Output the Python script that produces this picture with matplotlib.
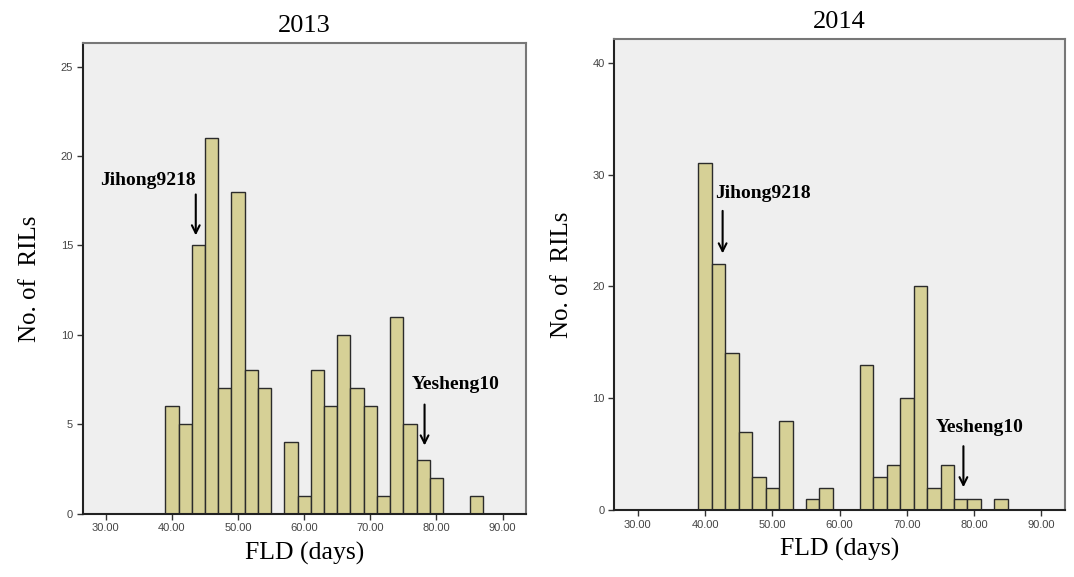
import numpy as np
import matplotlib.pyplot as plt

# bin edges shared by both years (width 2 days)
bin_starts = list(range(39, 87, 2))

counts_2013 = [6, 5, 15, 21, 7, 18, 8, 7, 0, 4, 1, 8, 6, 10, 7, 6, 1, 11, 5, 3, 2, 0, 0, 1]
counts_2014 = [31, 22, 14, 7, 3, 2, 8, 0, 1, 2, 0, 0, 13, 3, 4, 10, 20, 2, 4, 1, 1, 0, 1, 0]

xticks = [30, 40, 50, 60, 70, 80, 90]
yticks_2013 = [0, 5, 10, 15, 20, 25]
yticks_2014 = [0, 10, 20, 30, 40]

# parent annotations: (label, x, arrow top, arrow tip, text x, text y)
notes_2013 = [("Jihong9218", 43.6, 18.0, 15.4, 29.1, 18.6),
              ("Yesheng10", 78.2, 6.25, 3.65, 76.3, 7.2)]
notes_2014 = [("Jihong9218", 42.6, 27.0, 22.7, 41.5, 28.3),
              ("Yesheng10", 78.4, 5.96, 1.79, 74.3, 7.4)]

serif = ['Liberation Serif', 'DejaVu Serif']
sans = ['Liberation Sans', 'DejaVu Sans']


def draw_panel(ax, counts, yticks, ylim, notes, title):
    ax.set_facecolor('#efefef')
    for s, c in zip(bin_starts, counts):
        if c > 0:
            ax.bar(s, c, width=2, align='edge', color='#d6d096',
                   edgecolor='#2b2b2b', linewidth=1.0)
    ax.set_xlim(26.5, 93.5)
    ax.set_ylim(0, ylim)
    ax.set_xticks(xticks)
    ax.set_xticklabels([f"{t:.2f}" for t in xticks], fontfamily=sans,
                       fontsize=8, color='#444444')
    ax.set_yticks(yticks)
    ax.set_yticklabels([str(t) for t in yticks], fontfamily=sans,
                       fontsize=8, color='#444444')
    ax.tick_params(length=4, width=1, color='#333333', pad=3)
    for side in ['top', 'right']:
        ax.spines[side].set_color('#777777')
        ax.spines[side].set_linewidth(1.5)
    for side in ['left', 'bottom']:
        ax.spines[side].set_color('#222222')
        ax.spines[side].set_linewidth(1.5)
    ax.set_title(title, fontfamily=serif, fontsize=19, pad=8)
    ax.set_xlabel('FLD (days)', fontfamily=serif, fontsize=18.5, labelpad=6)
    ax.set_ylabel('No. of  RILs', fontfamily=serif, fontsize=18, labelpad=14)
    for label, x, y0, y1, tx, ty in notes:
        ax.annotate('', xy=(x, y1), xytext=(x, y0),
                    arrowprops=dict(arrowstyle='->', color='black', lw=1.5,
                                    mutation_scale=14))
        ax.text(tx, ty, label, fontfamily=serif, fontweight='bold',
                fontsize=14, va='center', ha='left')


fig = plt.figure(figsize=(10.74, 5.77), dpi=100)
ax1 = fig.add_axes([0.077, 0.110, 0.4125, 0.815])
ax2 = fig.add_axes([0.572, 0.116, 0.4196, 0.816])

draw_panel(ax1, counts_2013, yticks_2013, 26.3, notes_2013, '2013')
draw_panel(ax2, counts_2014, yticks_2014, 42.1, notes_2014, '2014')

fig.savefig('out.png', dpi=100)
